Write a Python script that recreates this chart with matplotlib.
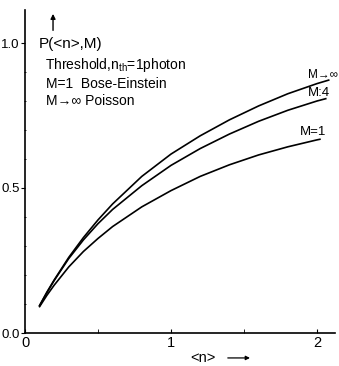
import matplotlib
matplotlib.use("Agg")
import matplotlib.pyplot as plt

# valores (umbral 1 foton)
n_inf = [0.1, 0.15, 0.2, 0.3, 0.4, 0.5, 0.6, 0.8, 1.0, 1.2, 1.4, 1.6, 1.8, 2.0, 2.08]
p_inf = [0.095, 0.141, 0.183, 0.261, 0.329, 0.390, 0.445, 0.540, 0.617, 0.680, 0.735, 0.783, 0.825, 0.860, 0.872]

n_m4 = [0.1, 0.15, 0.2, 0.3, 0.4, 0.5, 0.6, 0.8, 1.0, 1.2, 1.4, 1.6, 1.8, 2.0, 2.06]
p_m4 = [0.094, 0.139, 0.181, 0.257, 0.321, 0.377, 0.426, 0.508, 0.578, 0.636, 0.686, 0.730, 0.768, 0.800, 0.808]

n_m1 = [0.1, 0.15, 0.2, 0.3, 0.4, 0.5, 0.6, 0.8, 1.0, 1.2, 1.4, 1.6, 1.8, 2.0, 2.02]
p_m1 = [0.091, 0.130, 0.165, 0.228, 0.281, 0.326, 0.367, 0.435, 0.491, 0.540, 0.580, 0.614, 0.642, 0.666, 0.668]

xticks = [0, 1, 2]
yticks = [0.0, 0.5, 1.0]
ytick_labels = ["0.0", "0.5", "1.0"]

plt.rcParams['font.family'] = ['Liberation Sans', 'DejaVu Sans']

W, H = 339, 366
fig = plt.figure(figsize=(W / 100, H / 100), dpi=100)
ax = fig.add_axes([25 / W, 33 / H, 310 / W, 323 / H])
ax.set_xlim(0, 310 / 146)
ax.set_ylim(0, 323 / 290)

for n, p in [(n_inf, p_inf), (n_m4, p_m4), (n_m1, p_m1)]:
    ax.plot(n, p, color='black', lw=1.2)

# ejes
ax.spines['top'].set_visible(False)
ax.spines['right'].set_visible(False)
ax.spines['left'].set_linewidth(1.2)
ax.spines['bottom'].set_linewidth(1.2)

ax.set_xticks(xticks)
ax.set_xticklabels([str(t) for t in xticks], fontsize=10.5)
ax.set_xticks([0.5, 1.5], minor=True)
ax.tick_params(axis='x', which='both', direction='in', length=3, pad=2)

ax.set_yticks(yticks)
ax.set_yticklabels(ytick_labels, fontsize=9.5)
ax.set_yticks([0.1, 0.2, 0.3, 0.4, 0.6, 0.7, 0.8, 0.9], minor=True)
ax.tick_params(axis='y', which='major', direction='out', length=3, pad=1)
ax.tick_params(axis='y', which='minor', direction='inout', length=2)

# textos
ax.text(0.096, 0.997, "P(<n>,M)", fontsize=11, va='center', ha='left')
ax.annotate("", xy=(0.192, 1.11), xytext=(0.192, 1.034),
            arrowprops=dict(arrowstyle='-|>', color='black', lw=1, mutation_scale=7))
ax.text(0.137, 0.924, "Threshold,$\\mathregular{n_{th}}$=1photon", fontsize=10, va='center', ha='left')
ax.text(0.144, 0.859, "M=1  Bose-Einstein", fontsize=10, va='center', ha='left')
ax.text(0.144, 0.800, "M→∞ Poisson", fontsize=10, va='center', ha='left')

ax.text(1.94, 0.89, "M→∞", fontsize=8.5, va='center', ha='left')
ax.text(1.94, 0.828, "M:4", fontsize=9.5, va='center', ha='left')
ax.text(1.884, 0.693, "M=1", fontsize=9.5, va='center', ha='left')

ax.text(1.22, -0.086, "<n>", fontsize=10.5, va='center', ha='center', clip_on=False)
ax.annotate("", xy=(1.56, -0.086), xytext=(1.37, -0.086), annotation_clip=False,
            arrowprops=dict(arrowstyle='-|>', color='black', lw=0.9, mutation_scale=6))

fig.savefig("out.png", dpi=100)
